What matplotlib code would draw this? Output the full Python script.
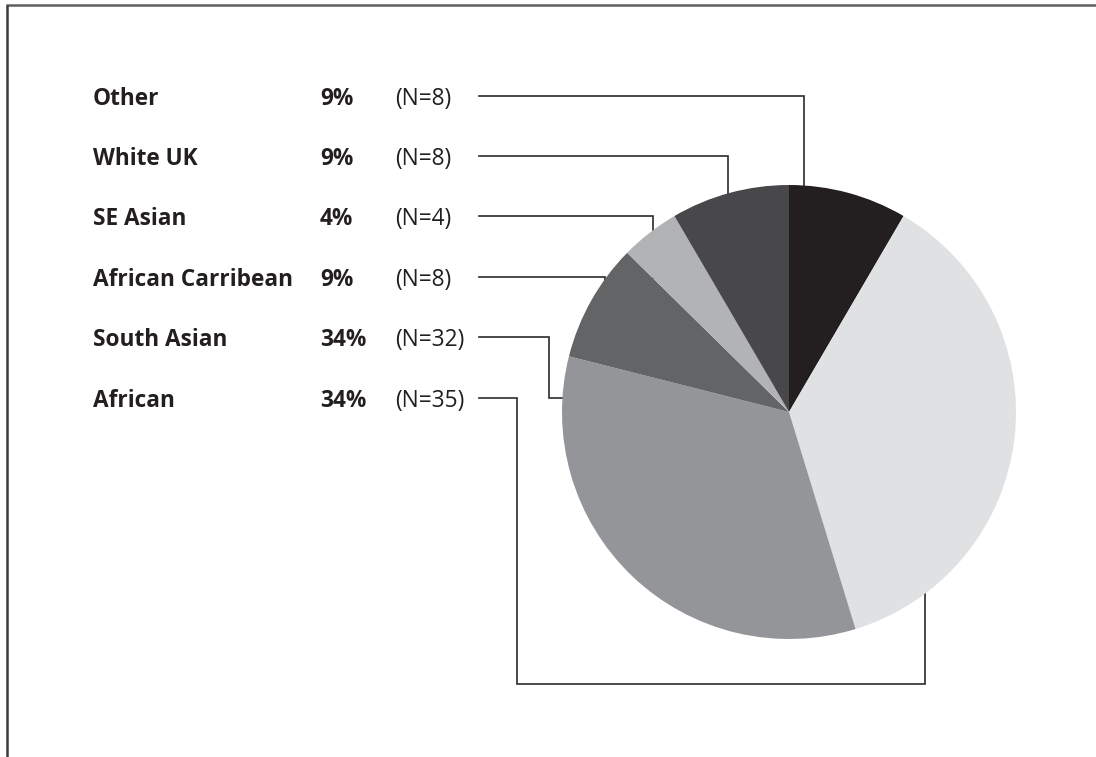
import matplotlib
matplotlib.use("Agg")
import matplotlib.pyplot as plt

# Ethnic group breakdown, top row first
groups = ["Other", "White UK", "SE Asian", "African Carribean", "South Asian", "African"]
percent_labels = ["9%", "9%", "4%", "9%", "34%", "34%"]
counts = [8, 8, 4, 8, 32, 35]

# Slice order clockwise from 12 o'clock
pie_order = ["Other", "African", "South Asian", "African Carribean", "SE Asian", "White UK"]
slice_colors = {
    "Other": "#231f20",
    "African": "#e0e1e2",
    "South Asian": "#939598",
    "African Carribean": "#636466",
    "SE Asian": "#b1b3b5",
    "White UK": "#48484a",
}

W, H = 1096, 757
plt.rcParams["font.family"] = ["Open Sans", "DejaVu Sans"]

fig = plt.figure(figsize=(W / 100, H / 100), dpi=100)
ax = fig.add_axes([0, 0, 1, 1])
ax.set_xlim(0, W)
ax.set_ylim(0, H)
ax.set_aspect("equal")
ax.axis("off")


def py(y):
    # pixel rows measured from the top
    return H - y


cx, cy, r = 789, 412, 227
ax.pie([counts[groups.index(g)] for g in pie_order],
       colors=[slice_colors[g] for g in pie_order],
       startangle=90, counterclock=False,
       center=(cx, py(cy)), radius=r,
       wedgeprops=dict(linewidth=0, zorder=3))
ax.set_xlim(0, W)
ax.set_ylim(0, H)

# label rows
row_y = [96, 156, 216, 277, 337, 398]
fs = 16.3
tk = dict(fontsize=fs, color="#231f20", va="center_baseline")
for g, pct, n, y in zip(groups, percent_labels, counts, row_y):
    ax.text(93, py(y), g, fontweight="bold", **tk)
    ax.text(320, py(y), pct, fontweight="bold", **tk)
    ax.text(395, py(y), f"(N={n})", **tk)

# leader lines (run under the pie so they stop at its edge)
lk = dict(color="#2b2b2b", lw=1.2, zorder=1, solid_joinstyle="miter")
x0 = 479
leaders = {
    "Other": [(x0, 96), (804, 96), (804, 300)],
    "White UK": [(x0, 156), (728, 156), (728, 300)],
    "SE Asian": [(x0, 216), (653, 216), (653, 300)],
    "African Carribean": [(x0, 277), (605, 277), (605, 330)],
    "South Asian": [(x0, 337), (549, 337), (549, 398), (620, 398)],
    "African": [(x0, 398), (517, 398), (517, 684), (925, 684), (925, 520)],
}
for g in groups:
    pts = leaders[g]
    ax.plot([p[0] for p in pts], [py(p[1]) for p in pts], **lk)

# page frame: top rule and left rule
ax.plot([6, W], [py(4.5), py(4.5)], color="#5e5e5e", lw=1.8, zorder=5, solid_capstyle="butt")
ax.plot([6.5, 6.5], [py(4.5), 0], color="#3a3a3a", lw=1.8, zorder=5, solid_capstyle="butt")

fig.savefig("out.png", dpi=100)
